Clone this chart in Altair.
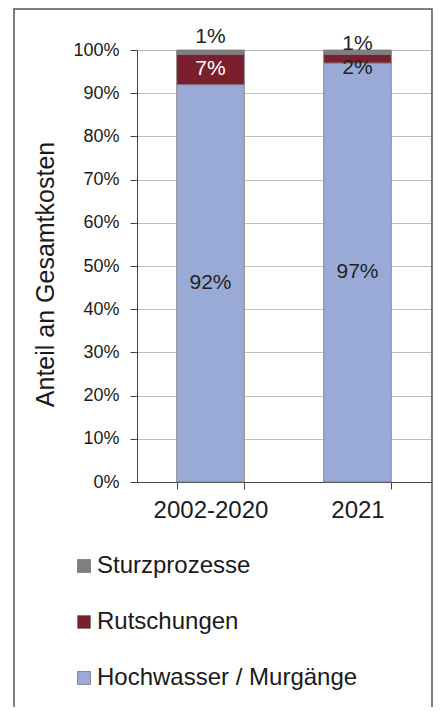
import altair as alt
import pandas as pd

periods = ["2002-2020", "2021"]
categories = ["Hochwasser / Murgänge", "Rutschungen", "Sturzprozesse"]
hochwasser = [92, 97]
rutschungen = [7, 2]
sturz = [1, 1]

# data labels: text, period, position (in % units), colour
label_text = ["92%", "7%", "1%", "97%", "2%", "1%"]
label_period = ["2002-2020", "2002-2020", "2002-2020", "2021", "2021", "2021"]
label_pos = [46, 95.5, 103.0, 48.5, 95.8, 101.3]
label_color = ["#222222", "#ffffff", "#222222", "#222222", "#222222", "#222222"]

legend_order = ["Sturzprozesse", "Rutschungen", "Hochwasser / Murgänge"]
colors = ["#7f7f7f", "#7b1f2e", "#9aaad6"]
y_ticks = [0, 10, 20, 30, 40, 50, 60, 70, 80, 90, 100]

rows = []
for i, p in enumerate(periods):
    for k, (c, vals) in enumerate(zip(categories, [hochwasser, rutschungen, sturz])):
        rows.append({"period": p, "category": c, "value": vals[i], "ord": k})
df = pd.DataFrame(rows)

labels = pd.DataFrame({"period": label_period, "text": label_text,
                       "pos": label_pos, "tc": label_color})

FONT = "Liberation Sans"

bars = alt.Chart(df).mark_bar(stroke="#7a7a7a", strokeWidth=0.8).encode(
    x=alt.X("period:N", sort=periods, title=None,
            scale=alt.Scale(paddingInner=0.54, paddingOuter=0.27),
            axis=alt.Axis(labelAngle=0, tickBand="extent", labelFontSize=24,
                          labelColor="#1a1a1a", labelPadding=9, tickSize=7,
                          domainColor="#444", tickColor="#444", labelFont=FONT)),
    y=alt.Y("value:Q", stack="zero", title="Anteil an Gesamtkosten",
            scale=alt.Scale(domain=[0, 100], nice=False),
            axis=alt.Axis(values=y_ticks, labelExpr="datum.value + '%'",
                          labelFontSize=18, labelColor="#1a1a1a", labelPadding=11,
                          tickSize=7, domainColor="#444", tickColor="#444",
                          gridColor="#b0b0b0", gridWidth=0.8,
                          titleFontSize=25, titleFontWeight="normal", titleColor="#1a1a1a",
                          titlePadding=14, titleY=224, titleFont=FONT, labelFont=FONT)),
    color=alt.Color("category:N",
                    scale=alt.Scale(domain=legend_order, range=colors),
                    legend=alt.Legend(title=None, orient="none", legendX=-65, legendY=504,
                                      direction="vertical", symbolType="square",
                                      symbolSize=169, symbolStrokeColor="#777",
                                      symbolStrokeWidth=0.8, labelFontSize=24,
                                      labelColor="#1a1a1a", labelFont=FONT, labelLimit=0,
                                      rowPadding=32, labelOffset=1, padding=0)),
    order=alt.Order("ord:Q"),
)

text = alt.Chart(labels).mark_text(fontSize=21, font=FONT, baseline="middle").encode(
    x=alt.X("period:N", sort=periods),
    y=alt.Y("pos:Q"),
    text="text:N",
    color=alt.Color("tc:N", scale=None),
)

border = alt.Chart(alt.Data(values=[{}])).mark_rect(
    filled=False, stroke="#555", strokeWidth=1.5
).encode(x=alt.value(-123), x2=alt.value(295), y=alt.value(-41), y2=alt.value(700))

chart = alt.layer(border, bars, text).properties(
    width=294, height=432,
    autosize=alt.AutoSizeParams(type="none"),
    padding={"left": 129, "top": 42, "right": 5, "bottom": 225},
).configure_view(stroke=None).configure(font=FONT)

chart.save("out.html", embed_options={"renderer": "svg", "actions": False})
